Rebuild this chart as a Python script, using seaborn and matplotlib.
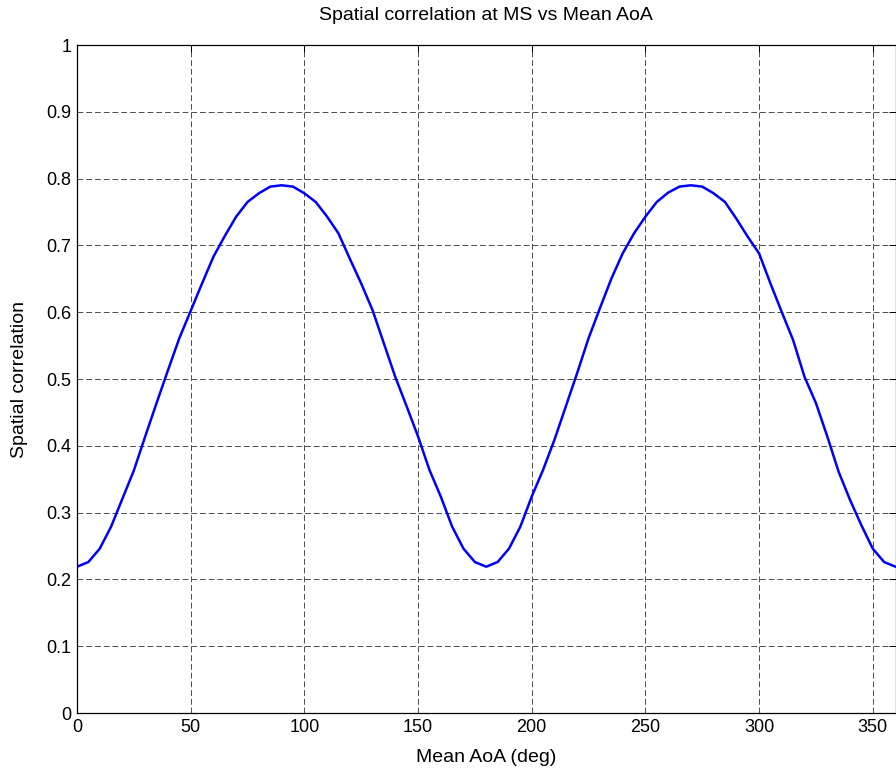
import numpy as np
import pandas as pd
import seaborn as sns
import matplotlib
matplotlib.use("Agg")
import matplotlib.pyplot as plt

# Mean AoA in degrees (5-degree steps)
aoa_deg = list(range(0, 361, 5))
# Spatial correlation
spatial_corr = [
    0.219, 0.226, 0.246, 0.279, 0.321, 0.363, 0.414, 0.464, 0.513, 0.561,
    0.602, 0.643, 0.683, 0.714, 0.743, 0.765, 0.778, 0.788, 0.790,
    0.788, 0.778, 0.765, 0.743, 0.718, 0.680, 0.643, 0.603, 0.553, 0.503,
    0.459, 0.414, 0.364, 0.324, 0.279, 0.246, 0.226, 0.219,
    0.226, 0.246, 0.279, 0.324, 0.364, 0.409, 0.459, 0.509, 0.561,
    0.606, 0.650, 0.688, 0.718, 0.743, 0.765, 0.779, 0.788, 0.790,
    0.788, 0.778, 0.765, 0.740, 0.713, 0.688, 0.643, 0.600, 0.558, 0.503,
    0.464, 0.414, 0.361, 0.319, 0.281, 0.246, 0.226, 0.219,
]
x_ticks = [0, 50, 100, 150, 200, 250, 300, 350]
y_ticks = [0, 0.1, 0.2, 0.3, 0.4, 0.5, 0.6, 0.7, 0.8, 0.9, 1]
y_tick_labels = ["0", "0.1", "0.2", "0.3", "0.4", "0.5", "0.6", "0.7", "0.8", "0.9", "1"]

df = pd.DataFrame({"Mean AoA (deg)": aoa_deg, "Spatial correlation": spatial_corr})

sns.set_theme(style="white")
plt.rcParams["font.family"] = ["Liberation Sans", "DejaVu Sans"]
plt.rcParams["text.color"] = "black"
plt.rcParams["axes.labelcolor"] = "black"

W, H = 896, 771
fig = plt.figure(figsize=(W / 100, H / 100), dpi=100)
ax = fig.add_axes([77 / W, 1 - 713 / H, (895.5 - 77) / W, (713 - 45) / H])

sns.lineplot(data=df, x="Mean AoA (deg)", y="Spatial correlation", ax=ax,
             color="#0000ff", linewidth=1.8, estimator=None, sort=False)

ax.set_xlim(0, 360)
ax.set_ylim(0, 1)
ax.set_xticks(x_ticks)
ax.set_xticklabels([str(t) for t in x_ticks])
ax.set_yticks(y_ticks)
ax.set_yticklabels(y_tick_labels)

ax.grid(True, color="0.3", linestyle=(0, (6, 3)), linewidth=0.7)
for s in ax.spines.values():
    s.set_color("black")
    s.set_linewidth(0.9)

ax.tick_params(direction="in", top=True, right=True, length=5, width=0.7,
               labelsize=13, colors="black", pad=4)
ax.set_xlabel("Mean AoA (deg)", fontsize=14, color="black")
ax.set_ylabel("Spatial correlation", fontsize=14, color="black")
ax.xaxis.set_label_coords(0.5, -(757 - 713) / (713 - 45), transform=ax.transAxes)
ax.yaxis.set_label_coords(-(77 - 20) / (895.5 - 77), 0.5, transform=ax.transAxes)
ax.xaxis.label.set_va("center")
ax.yaxis.label.set_va("center")
ax.set_title("Spatial correlation at MS vs Mean AoA", fontsize=14, color="black",
             pad=0, y=1 + (45 - 15) / (713 - 45), va="center")

fig.savefig("out.png", dpi=100, facecolor="white")
